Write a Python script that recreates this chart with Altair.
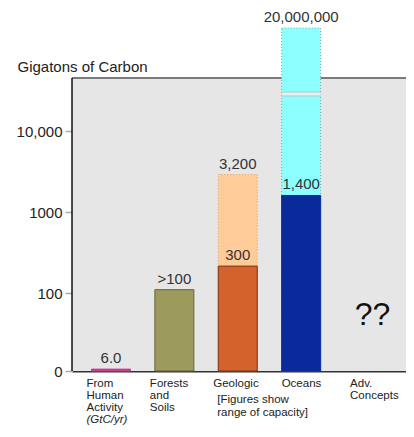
import altair as alt
import pandas as pd

# ---------------- data ----------------
cat_keys = ["human", "forests", "geologic", "oceans", "adv"]

lower_cats = ["human", "forests", "geologic", "oceans"]
lower_tops = [11.5, 110, 215, 1600]
lower_fills = ["#c4408c", "#9c9a5c", "#d4622c", "#0a2a9c"]
lower_strokes = ["#c4408c", "#66643a", "#7a3414", "#0a2a9c"]

upper_cats = ["geologic", "oceans"]
upper_tops = [2900, 187000]
upper_fills = ["#ffcc99", "#8cffff"]
upper_strokes = ["#e09a58", "#9a9a9a"]

label_cats = ["human", "forests", "geologic", "geologic", "oceans", "oceans"]
label_vals = [11.5, 110, 215, 2900, 1600, 187000]
label_texts = ["6.0", ">100", "300", "3,200", "1,400", "20,000,000"]

break_cat = ["oceans"]
break_val = [28600]

qq_cat = ["adv"]
qq_val = [53.5]
qq_text = ["??"]

xlab_cats_a = ["human", "forests", "geologic"]
xlab_texts_a = ["From\nHuman\nActivity", "Forests\nand\nSoils", "Geologic"]
xlab_cats_b = ["oceans"]
xlab_texts_b = ["Oceans"]
xlab_cats_c = ["adv"]
xlab_texts_c = ["Adv.\nConcepts"]
italic_cat = ["human"]
italic_text = ["(GtC/yr)"]
note_cat = ["geologic"]
note_text = ["[Figures show\n\u2002range of capacity]"]

tick_values = [10.9, 100, 1000, 10000]
tick_labels = ["0", "100", "1000", "10,000"]

Y_FLOOR = 10.9
FRAME_TOP = 45000
Y_CEIL = 187000

W, H = 334, 343
FONT = "Liberation Sans"
LH = 12

# ---------------- scales / axes ----------------
expr = "''"
for v, l in reversed(list(zip(tick_values, tick_labels))):
    expr = f"(abs(datum.value - {v}) < {v}*0.01 ? '{l}' : {expr})"

yscale = alt.Scale(type="log", domain=[Y_FLOOR, Y_CEIL], nice=False, clamp=True)
yaxis = alt.Axis(
    title="Gigatons of Carbon", titleAngle=0, titleAlign="left", titleBaseline="middle",
    titleX=-55, titleY=38, titleFontSize=15, titleFontWeight="normal", titleColor="#222",
    titleFont=FONT, values=tick_values, labelExpr=expr, labelFont=FONT, labelFontSize=15,
    labelColor="#222", labelPadding=3, tickSize=7, tickColor="#aaa", tickWidth=1.5,
    domain=False, grid=False,
)
xscale = alt.Scale(domain=cat_keys, paddingInner=0.385, paddingOuter=0.3265, align=0.47)
xaxis = alt.Axis(labels=False, ticks=False, title=None, domainColor="#333", domainWidth=2, grid=False)


def X(**kw):
    return alt.X("cat:N", scale=xscale, axis=xaxis, **kw)


def Y(field):
    return alt.Y(f"{field}:Q", scale=yscale, axis=yaxis)


def YD(v):
    return alt.YDatum(v, type="quantitative", scale=yscale, axis=yaxis)


one = pd.DataFrame({"k": [0]})

frame = alt.Chart(one).mark_rect(fill="#e6e6e6").encode(
    x=alt.value(0), x2=alt.value(W), y=YD(FRAME_TOP), y2=alt.datum(Y_FLOOR)
)
top_border = alt.Chart(one).mark_rule(color="#7a7a7a", strokeWidth=2).encode(
    x=alt.value(0), x2=alt.value(W), y=YD(FRAME_TOP)
)
left_border = alt.Chart(one).mark_rule(color="#111", strokeWidth=1.5).encode(
    x=alt.value(0), y=YD(FRAME_TOP), y2=alt.datum(Y_FLOOR)
)

upper_df = pd.DataFrame({"cat": upper_cats, "top": upper_tops, "fill": upper_fills, "stroke": upper_strokes})
upper = alt.Chart(upper_df).mark_bar(strokeDash=[1, 2], strokeWidth=1).encode(
    x=X(), y=Y("top"), y2=alt.datum(Y_FLOOR),
    fill=alt.Fill("fill:N", scale=None), stroke=alt.Stroke("stroke:N", scale=None),
)

lower_df = pd.DataFrame({"cat": lower_cats, "top": lower_tops, "fill": lower_fills, "stroke": lower_strokes})
lower = alt.Chart(lower_df).mark_bar(strokeWidth=1).encode(
    x=X(), y=Y("top"), y2=alt.datum(Y_FLOOR),
    fill=alt.Fill("fill:N", scale=None), stroke=alt.Stroke("stroke:N", scale=None),
)

brk_df = pd.DataFrame({"cat": break_cat, "v": break_val})
brk_edge = alt.Chart(brk_df).mark_tick(color="#b8b8b8", thickness=5, size=39).encode(x=X(), y=Y("v"))
brk = alt.Chart(brk_df).mark_tick(color="white", thickness=3, size=39).encode(x=X(), y=Y("v"))

lab_df = pd.DataFrame({"cat": label_cats, "v": label_vals, "t": label_texts})
labels = alt.Chart(lab_df).mark_text(
    baseline="bottom", dy=-3, font=FONT, fontSize=15, color="#333"
).encode(x=X(), y=Y("v"), text="t:N")

qq_df = pd.DataFrame({"cat": qq_cat, "v": qq_val, "t": qq_text})
qq = alt.Chart(qq_df).mark_text(
    baseline="middle", dx=8, font=FONT, fontSize=32, color="#111"
).encode(x=X(), y=Y("v"), text="t:N")


def xlabels(cats, texts, dx, dy, style="normal", lh=LH):
    df = pd.DataFrame({"cat": cats, "t": texts})
    return alt.Chart(df).mark_text(
        align="left", baseline="middle", dx=dx, dy=dy, font=FONT, fontSize=11.5,
        fontStyle=style, lineBreak="\n", lineHeight=lh, color="#222"
    ).encode(x=X(bandPosition=0), y=YD(Y_FLOOR), text="t:N")


xl_a = xlabels(xlab_cats_a, xlab_texts_a, -5, 13)
xl_b = xlabels(xlab_cats_b, xlab_texts_b, 0, 13)
xl_c = xlabels(xlab_cats_c, xlab_texts_c, 5, 13)
xl_i = xlabels(italic_cat, italic_text, -5, 13 + 3 * LH, "italic")
xl_n = xlabels(note_cat, note_text, -1, 29, lh=12.5)

chart = alt.layer(
    frame, top_border, upper, lower, brk_edge, brk, left_border,
    labels, qq, xl_a, xl_b, xl_c, xl_i, xl_n
).properties(
    width=W, height=H,
    autosize=alt.AutoSizeParams(type="none"),
    padding={"left": 64, "top": 20, "right": 0, "bottom": 58},
).configure_view(stroke=None)

chart.save("out.html", embed_options={"renderer": "svg", "actions": False})
